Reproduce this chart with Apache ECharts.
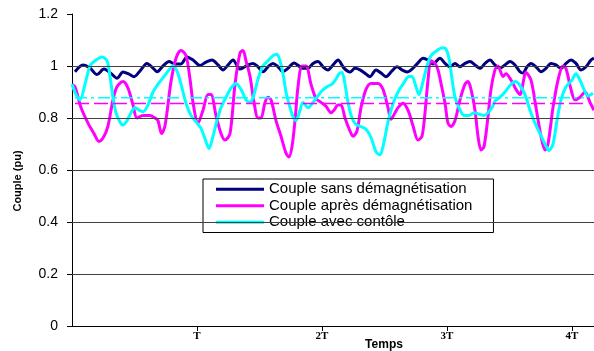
<!DOCTYPE html>
<html>
<head>
<meta charset="utf-8">
<script src="https://cdn.jsdelivr.net/npm/echarts@6/dist/echarts.min.js"></script>
<style>html,body{margin:0;padding:0;background:#fff}#c{width:594px;height:351px}</style>
</head>
<body>
<div id="c"></div>
<script>
// Time in samples; one period T = 125 samples
const T = 125;
const xTicks = [125, 250, 375, 500];
const xTickLabels = ['T', '2T', '3T', '4T'];
const gridValues = [0.2, 0.4, 0.6, 0.8, 1.0];

const names = ['Couple sans démagnétisation', 'Couple après démagnétisation', 'Couple avec contôle'];

const sansT = [3,11,18,25,32,39,45,51,57,62,68,75,81,85,91,97,103,109,115,121,128,134,140,146,151,156,161,168,176,181,186,191,196,201,206,211,216,222,231,236,241,246,251,256,261,266,272,278,283,288,294,298,304,309,314,320,325,330,335,340,346,351,356,361,368,373,378,383,388,393,398,403,408,413,418,423,428,433,438,443,448,451,455,459,464,469,474,479,484,489,494,499,504,509,514,519,522];
const sansV = [0.978,1.004,0.992,0.967,0.988,0.971,0.953,0.977,0.969,0.959,0.981,1.010,0.992,0.978,1.0,1.017,1.008,1.008,1.035,1.023,1.002,1.015,1.023,1.004,0.985,1.004,1.023,0.988,1.004,1.010,0.997,0.978,0.997,1.010,0.997,0.978,0.991,1.012,0.991,0.991,1.010,1.017,0.997,0.985,1.004,1.023,0.992,0.977,0.991,0.985,0.969,0.959,0.985,0.973,0.959,0.981,0.997,0.985,0.977,0.988,1.012,1.030,1.023,1.008,1.030,1.010,0.997,1.010,0.997,1.010,1.017,1.004,0.991,1.010,1.023,1.004,0.991,1.004,1.017,1.004,0.978,0.973,0.997,1.010,0.997,0.978,0.991,1.010,1.004,0.991,1.010,1.023,1.010,0.985,0.997,1.023,1.030];

const apresT = [0,3,9,16,22,27,32,36,41,45,51,56,61,65,71,78,83,86,89.5,93,99,104,109,114,118,121,126,131,136,139,144,149,153,158,163,168,171,174,178,182,186,189,193,196,199,204,209,214,217,220,223,226,230,234,239,244,249,254,259,262,266,269,273,278,281,285,289,294,299,306,311,316,319,323,326,331,336,341,346,350,353,356,359,363,366,369,373,376,379,383,388,393,396,399,403,406,409,412,416,419,423,426,431,434,439,444,448,454,459,464,469,473,476,481,486,491,494,499,503,508,513,518,522];
const apresV = [0.93,0.92,0.84,0.78,0.74,0.71,0.73,0.77,0.87,0.92,0.94,0.915,0.85,0.80,0.81,0.81,0.80,0.79,0.74,0.77,0.94,1.03,1.06,1.04,0.95,0.86,0.78,0.83,0.89,0.89,0.81,0.74,0.715,0.74,0.93,1.05,1.06,1.02,0.96,0.86,0.80,0.80,0.86,0.88,0.87,0.79,0.73,0.665,0.65,0.69,0.79,0.92,1.0,1.0,0.93,0.875,0.86,0.845,0.82,0.83,0.85,0.85,0.80,0.75,0.73,0.75,0.84,0.91,0.933,0.933,0.91,0.84,0.795,0.82,0.84,0.857,0.83,0.77,0.715,0.73,0.82,0.946,1.02,1.01,0.985,0.933,0.857,0.78,0.767,0.79,0.87,0.93,0.94,0.91,0.83,0.73,0.677,0.69,0.805,0.91,0.985,1.0,0.96,0.97,0.946,0.91,0.89,0.975,0.946,0.84,0.73,0.677,0.70,0.84,0.946,1.0,0.99,0.91,0.87,0.88,0.90,0.86,0.83];

const avecT = [0,4,8,13,18,23,30,35,38,41,44,48,51,55,59,63,67,71,76,81,86,92,97,101,105,109,114,119,124,129,133,137,141,145,149,154,159,164,169,174,178,182,186,191,196,201,205,208,211,214,218,221,224,228,231,236,241,245,250,255,260,264,267,270,273,276,280,284,289,294,299,304,308,311,316,321,326,331,337,340,344,347,351,355,359,365,371,374,377,380,383,387,392,397,402,407,412,416,420,423,428,433,438,443,448,453,458,463,468,473,477,481,485,489,494,500,504,508,512,516,521];
const avecV = [0.93,0.89,0.87,0.93,1.0,1.02,1.035,1.02,0.96,0.88,0.82,0.785,0.773,0.79,0.82,0.84,0.83,0.824,0.85,0.9,0.93,0.96,0.985,1.0,0.98,0.93,0.857,0.81,0.785,0.76,0.72,0.683,0.73,0.79,0.84,0.88,0.915,0.933,0.91,0.87,0.86,0.89,0.95,1.0,1.02,1.04,1.045,1.02,0.97,0.9,0.84,0.805,0.79,0.83,0.86,0.84,0.86,0.88,0.905,0.92,0.93,0.95,0.97,0.975,0.93,0.86,0.80,0.775,0.767,0.757,0.725,0.67,0.658,0.69,0.785,0.855,0.9,0.93,0.96,0.96,0.92,0.89,0.94,1.0,1.04,1.06,1.07,1.065,1.03,0.95,0.88,0.84,0.81,0.81,0.82,0.815,0.81,0.82,0.84,0.865,0.88,0.9,0.925,0.94,0.925,0.89,0.83,0.78,0.74,0.70,0.675,0.70,0.79,0.87,0.92,0.946,0.97,0.945,0.91,0.885,0.895];

// mean levels (dashed)
const meanApres = 0.856;
const meanAvec = 0.878;
const meanSpan = [3, 512];

const zip = (a, b) => a.map((t, i) => [t, b[i]]);

const chart = echarts.init(document.getElementById('c'));
const font = 'Liberation Sans, Arial, sans-serif';
chart.setOption({
  animation: false,
  grid: { left: 72, right: 0, top: 14, bottom: 25, outerBoundsMode: 'none', containLabel: false },
  legend: {
    orient: 'vertical', left: 203, top: 179,
    itemWidth: 48, itemHeight: 3, itemGap: 0, icon: 'rect',
    padding: [2, 21, 2, 13],
    backgroundColor: '#fff', borderColor: '#000', borderWidth: 1,
    textStyle: { fontSize: 15, fontFamily: font, color: '#000', lineHeight: 16.5 },
    data: names
  },
  xAxis: {
    type: 'value', min: 0, max: 522, interval: T,
    name: 'Temps', nameLocation: 'middle', nameGap: 13, nameMoveOverlap: false,
    nameTextStyle: { fontSize: 12, fontWeight: 'bold', fontFamily: font, color: '#000', padding: [0, 0, 0, 102] },
    axisLine: { lineStyle: { color: '#000', width: 1 } },
    axisTick: { show: true, length: 5, lineStyle: { color: '#000' }, customValues: xTicks },
    axisLabel: {
      customValues: xTicks, margin: 5,
      fontSize: 11, fontWeight: 'bold', fontFamily: 'Liberation Serif, Times New Roman, serif', color: '#000',
      formatter: v => xTickLabels[xTicks.indexOf(v)] || ''
    },
    splitLine: { show: false }
  },
  yAxis: {
    type: 'value', min: 0, max: 1.2, interval: 0.2,
    name: 'Couple (pu)', nameLocation: 'middle', nameRotate: 90, nameGap: 49, nameMoveOverlap: false,
    nameTextStyle: { fontSize: 11, fontWeight: 'bold', fontFamily: font, color: '#000', padding: [0, 22, 0, 0] },
    axisLine: { show: true, lineStyle: { color: '#000', width: 1 } },
    axisTick: { show: true, length: 5, lineStyle: { color: '#000' } },
    axisLabel: { fontSize: 14, fontFamily: font, color: '#000', margin: 14 },
    splitLine: { show: false }
  },
  series: [
    {
      name: '__grid', type: 'line', data: [], silent: true,
      markLine: {
        silent: true, symbol: 'none', label: { show: false },
        lineStyle: { color: '#404040', width: 1, type: 'solid' },
        data: gridValues.map(v => ({ yAxis: v }))
      }
    },
    { name: names[0], type: 'line', data: zip(sansT, sansV), smooth: 0.3, symbol: 'none',
      lineStyle: { color: '#000080', width: 3 }, itemStyle: { color: '#000080' } },
    { name: names[1], type: 'line', data: zip(apresT, apresV), smooth: 0.3, symbol: 'none',
      lineStyle: { color: '#FF00FF', width: 3 }, itemStyle: { color: '#FF00FF' } },
    { name: names[2], type: 'line', data: zip(avecT, avecV), smooth: 0.3, symbol: 'none',
      lineStyle: { color: '#00FFFF', width: 3 }, itemStyle: { color: '#00FFFF' } },
    { name: 'meanApres', type: 'line', data: meanSpan.map(t => [t, meanApres]), symbol: 'none', silent: true,
      lineStyle: { color: '#FF00FF', width: 1.5, type: [14, 5] } },
    { name: 'meanAvec', type: 'line', data: meanSpan.map(t => [t, meanAvec]), symbol: 'none', silent: true,
      lineStyle: { color: '#00FFFF', width: 1.5, type: [12, 4, 3, 4] } }
  ]
});
</script>
</body>
</html>
